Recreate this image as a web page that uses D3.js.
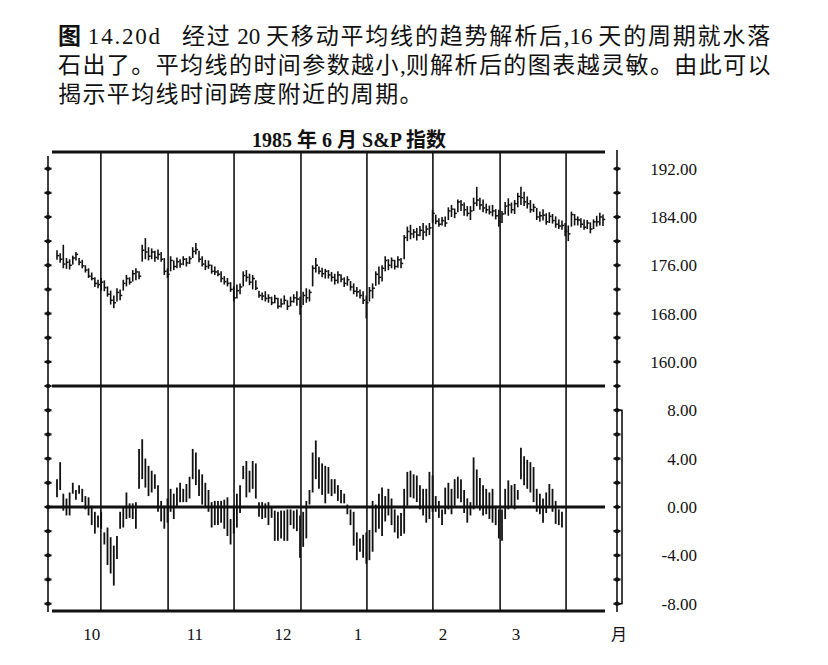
<!DOCTYPE html>
<html>
<head>
<meta charset="utf-8">
<script src="https://cdn.jsdelivr.net/npm/d3@7/dist/d3.min.js"></script>
<style>
  body { margin: 0; background: #fff; }
  svg { display: block; }
  text { font-family: "Liberation Serif", "Noto Sans CJK SC", serif; fill: #111; }
</style>
</head>
<body>
<div id="chart"></div>
<script>
// caption and chart title
const captionHead = ['图', '14.20d'];
const captionLines = [
    '经过 20 天移动平均线的趋势解析后,16 天的周期就水落',
    '石出了。平均线的时间参数越小,则解析后的图表越灵敏。由此可以',
    '揭示平均线时间跨度附近的周期。'
];
const chartTitle = '1985 年 6 月 S&P 指数';

// month labels and month boundaries (trading-day index)
const monthNames = ['10', '11', '12', '1', '2', '3'];
const monthLabelDay = [11, 43.7, 71.6, 95.4, 122.3, 145.4];
const monthBreakDay = [13.9, 35.2, 56.1, 77.3, 98.2, 119.1, 140.4, 161.3];

// S&P daily bars (top panel)
const spLow = [
    176.9,176.4,175.5,175.4,175.3,176.1,176.8,176.0,175.5,174.8,
    173.9,173.5,172.4,172.2,171.8,171.7,170.8,169.5,168.9,170.0,
    170.2,171.8,172.5,172.8,173.3,173.5,173.7,176.6,177.0,176.8,
    177.0,176.6,176.9,176.6,174.4,173.9,175.0,175.2,175.5,175.6,
    176.0,175.8,176.2,177.2,177.8,176.5,175.8,175.2,175.4,174.6,
    174.4,174.2,173.2,172.8,172.5,171.6,170.0,170.5,171.2,172.5,
    173.3,172.7,172.0,171.9,170.6,170.2,170.0,169.8,169.4,169.7,
    168.8,169.0,169.5,168.6,169.2,169.8,169.3,167.8,169.4,169.8,
    170.0,172.5,174.8,174.5,174.0,173.8,173.8,173.3,172.8,173.0,
    173.2,172.4,172.6,171.8,171.2,170.8,170.5,169.6,167.2,170.0,
    170.5,172.6,172.8,173.3,175.0,175.2,175.5,175.3,175.6,175.5,
    177.0,180.0,180.3,180.5,180.1,180.8,180.2,180.8,181.0,183.0,
    182.8,182.4,182.6,182.4,183.5,184.0,183.8,184.8,185.0,184.2,
    184.1,183.5,185.0,185.8,185.2,184.8,184.6,184.4,184.1,183.6,
    182.4,183.0,184.4,184.2,184.6,184.5,185.6,186.0,185.8,185.4,
    184.7,184.8,183.5,183.2,183.4,182.7,183.0,182.9,182.2,182.0,
    181.9,180.8,180.0,182.4,182.6,182.6,182.2,181.9,182.0,181.3,
    182.0,182.4,182.6,182.5
];
const spHigh = [
    178.5,178.0,179.4,177.2,177.0,177.6,178.2,177.2,176.9,176.0,
    175.5,174.8,174.0,173.6,173.9,173.5,172.5,171.8,171.0,172.2,
    172.0,173.6,174.4,174.0,175.2,175.5,175.0,179.4,180.5,179.0,
    178.8,178.4,178.6,178.2,177.2,175.5,177.5,176.8,177.3,177.0,
    177.5,177.2,177.5,179.0,179.7,178.4,177.5,176.9,176.8,176.1,
    175.8,175.2,175.0,174.2,173.9,173.2,172.5,172.8,173.0,175.0,
    175.2,174.6,174.4,173.5,171.8,171.5,171.7,171.2,170.8,171.1,
    170.6,170.5,171.0,170.2,170.8,171.2,171.7,170.8,171.6,172.2,
    172.0,176.0,177.2,175.8,175.6,175.4,175.2,174.9,174.6,175.0,
    174.5,174.0,174.2,173.4,173.0,172.4,172.0,171.7,171.0,172.4,
    173.0,175.0,175.8,176.0,177.5,177.0,177.3,176.9,177.5,177.2,
    181.0,182.4,182.7,182.0,182.2,182.5,183.0,182.6,183.0,185.2,
    184.4,183.8,184.0,184.1,185.6,186.0,185.4,186.9,186.8,186.4,
    185.8,185.8,187.2,189.0,187.2,186.9,186.2,185.9,186.0,185.3,
    185.2,185.0,186.5,187.1,186.4,186.8,188.0,189.0,188.2,187.4,
    186.8,186.2,185.5,184.9,185.3,184.6,184.8,184.5,184.1,183.6,
    183.4,183.0,182.6,184.9,184.5,184.1,183.8,183.6,183.5,183.1,
    183.6,184.2,184.7,184.4
];
const spClose = [
    177.6,177.0,176.2,176.5,176.0,177.2,177.8,176.5,175.9,175.2,
    174.2,173.8,173.0,172.8,173.2,172.3,171.2,170.2,169.8,171.5,
    171.0,173.0,173.8,173.2,174.6,174.9,174.2,178.5,178.2,177.5,
    178.2,177.3,177.8,177.0,175.0,174.5,176.8,175.8,176.6,176.2,
    177.0,176.4,177.1,178.3,178.6,177.0,176.2,175.8,176.0,175.0,
    174.9,174.5,173.8,173.3,173.0,172.0,170.6,171.8,172.4,174.3,
    174.0,173.2,173.8,172.2,171.0,170.9,170.5,170.6,169.8,170.5,
    169.2,169.6,170.2,169.2,170.0,170.6,170.4,169.2,171.0,170.6,
    171.5,175.5,176.0,175.0,174.6,175.0,174.4,174.0,173.5,174.4,
    173.7,173.0,173.6,172.4,171.7,171.6,171.0,170.2,169.8,171.8,
    172.2,174.5,174.0,175.5,176.8,176.0,176.8,175.8,176.9,176.3,
    180.6,181.6,181.2,181.5,181.0,181.8,181.5,182.0,182.2,184.6,
    183.3,182.8,183.4,183.0,185.0,185.3,184.6,186.5,186.0,185.2,
    184.6,185.0,186.3,186.8,186.0,185.5,185.2,184.8,185.0,184.2,
    183.2,184.5,185.8,186.0,185.2,186.2,187.4,187.2,186.5,186.2,
    185.2,185.6,184.0,184.2,184.3,183.2,184.1,183.4,182.8,182.5,
    182.6,181.6,181.2,184.4,183.6,183.5,182.8,182.3,183.0,182.0,
    183.2,183.2,184.0,183.6
];

// detrended bars: price minus 20-day moving average (bottom panel)
const oscLow = [
    0.8,1.4,-0.3,-0.7,-0.7,1.1,0.6,1.1,0.4,-0.2,
    -0.7,-1.5,-2.2,-1.7,-1.8,-3.1,-4.8,-5.5,-6.5,-4.3,
    -1.8,-1.7,-1.0,-0.9,-1.0,-1.8,1.5,2.3,1.6,0.9,
    1.2,1.5,-0.4,-1.2,-1.8,-1.3,-0.4,-1.0,0.0,0.4,
    0.4,0.4,0.7,2.3,1.8,0.9,0.2,0.0,-0.4,-1.7,
    -1.5,-1.5,-1.3,-1.8,-2.4,-3.1,-2.2,-1.7,-0.5,2.3,
    0.8,1.2,1.5,0.7,-0.8,-1.0,-0.9,-1.5,-0.9,-2.8,
    -2.8,-2.6,-2.8,-2.8,-1.5,-1.8,-2.0,-4.2,-3.3,-2.6,
    0.2,1.2,2.3,1.5,1.0,0.3,1.1,0.9,1.1,0.5,
    0.3,0.3,-0.6,-1.5,-3.2,-4.4,-3.7,-4.2,-4.7,-4.4,
    -3.7,-2.1,-1.8,-2.4,-1.2,-0.7,-1.5,-2.1,-2.6,-2.4,
    -2.2,0.1,0.8,0.7,0.4,-0.2,-0.7,-1.3,-1.0,-0.4,
    -0.4,-0.9,-1.5,-0.6,-0.2,-0.6,0.1,0.7,0.4,-0.5,
    -1.3,-0.7,-0.2,0.1,-0.3,-0.7,-0.6,-1.0,-1.3,-1.5,
    -2.6,-2.8,-1.0,-0.2,0.0,-0.2,0.6,2.3,1.8,1.5,
    1.2,0.4,-0.4,-0.6,-1.3,-0.5,0.1,-0.4,-1.4,-1.5,-1.7
];
const oscHigh = [
    2.3,3.7,1.1,0.7,1.2,2.0,1.4,1.8,1.5,0.9,
    0.8,0.1,-0.4,-0.7,-0.4,-2.1,-1.7,-2.5,-3.2,-2.4,
    -0.4,0.0,1.2,0.3,0.3,0.4,4.8,5.6,4.0,3.4,
    3.0,2.7,1.8,0.5,0.1,0.7,1.5,1.1,1.6,2.0,
    1.5,1.9,2.5,4.8,4.5,3.1,2.7,2.0,1.4,0.4,
    0.5,0.5,0.5,0.6,0.8,-1.0,0.1,1.1,1.8,3.4,
    3.8,3.0,3.8,3.6,0.4,0.4,0.3,0.4,0.0,-0.3,
    -0.4,-0.3,-0.3,-0.2,-0.2,-0.3,-0.2,-0.7,-0.4,0.5,
    1.4,4.5,5.5,4.1,3.6,3.4,3.3,2.3,2.3,1.8,
    1.4,1.1,0.2,-0.2,-0.4,-2.1,-2.6,-2.3,-2.1,-1.9,
    0.5,0.2,1.1,1.6,0.9,1.5,0.7,-0.2,-0.7,-0.5,
    1.5,2.9,3.0,2.7,2.6,1.8,1.5,1.5,2.9,2.6,
    0.9,0.5,-0.2,1.6,2.0,1.5,2.3,2.5,2.3,1.4,
    0.7,0.4,4.1,3.1,2.4,1.8,1.5,1.2,1.5,0.1,
    -0.2,-0.2,1.5,2.2,1.8,1.9,1.4,4.9,4.2,3.9,
    3.7,3.3,1.5,1.1,0.7,1.2,1.9,1.5,0.5,-0.2,-0.4
];

// axis ticks
const priceLabels = [160, 168, 176, 184, 192];
const priceMinor = [156, 160, 164, 168, 172, 176, 180, 184, 188, 192];
const oscLabels = [-8, -4, 0, 4, 8];
const oscMinor = [-8, -6, -4, -2, 0, 2, 4, 6, 8];

const width = 828, height = 665;
const plotLeft = 52, plotRight = 605;
const axisL = 48, axisR = 617;
const capX = 58;

const svg = d3.select('#chart').append('svg')
    .attr('width', width)
    .attr('height', height);

// caption: CJK runs get extra spacing so each line fills its width
function captionLine(y, parts, target) {
    const t = svg.append('text').attr('x', capX).attr('y', y).attr('font-size', 23);
    const cjk = [];
    let shift = 0;
    parts.forEach(p => {
        const runs = p.text.match(/[\x00-\x7f]+|[^\x00-\x7f]+/g);
        runs.forEach((r, i) => {
            const s = t.append('tspan').text(r);
            if (i === 0 && p.dx) { s.attr('dx', p.dx); shift += p.dx; }
            if (p.bold) s.attr('font-weight', 'bold');
            if (/^[\x00-\x7f]+$/.test(r)) s.attr('letter-spacing', p.ls || 0);
            else cjk.push([s, r.length]);
        });
    });
    const natural = t.node().getComputedTextLength();
    const n = d3.sum(cjk, d => d[1]);
    const ls = Math.max(0, (target - shift - natural) / n);
    cjk.forEach(([s]) => s.attr('letter-spacing', ls));
}
captionLine(44, [
    { text: captionHead[0], bold: true },
    { text: captionHead[1], dx: 5, ls: 1.8 },
    { text: captionLines[0], dx: 20 }
], 714);
captionLine(73, [{ text: captionLines[1] }], 714);
captionLine(102, [{ text: captionLines[2] }], 366);

svg.append('text')
    .attr('x', 349).attr('y', 147)
    .attr('text-anchor', 'middle')
    .attr('font-size', 20)
    .attr('font-weight', 'bold')
    .text(chartTitle);

// scales
const x = d3.scaleLinear().domain([0, 173]).range([57, 603]);
const yTop = d3.scaleLinear().domain([156, 194.6]).range([386, 153]);
const yBot = d3.scaleLinear().domain([-8.6, 10]).range([611, 386]);

// month separators
svg.append('g').selectAll('line')
    .data(monthBreakDay)
    .join('line')
    .attr('x1', d => x(d)).attr('x2', d => x(d))
    .attr('y1', 152).attr('y2', 611)
    .attr('stroke', '#111').attr('stroke-width', 1.6);

// panel frame lines
const frame = svg.append('g').attr('stroke', '#111');
[152, yTop(156), yBot(-8.6)].forEach(yy => {
    frame.append('line')
        .attr('x1', plotLeft).attr('x2', plotRight)
        .attr('y1', yy).attr('y2', yy)
        .attr('stroke-width', 3);
});
frame.append('line')
    .attr('x1', axisL).attr('x2', plotRight)
    .attr('y1', yBot(0)).attr('y2', yBot(0))
    .attr('stroke-width', 3);

// price bars
const days = d3.range(spLow.length);
const priceG = svg.append('g').attr('stroke', '#111');
priceG.selectAll('line.bar')
    .data(days)
    .join('line')
    .attr('class', 'bar')
    .attr('x1', d => x(d)).attr('x2', d => x(d))
    .attr('y1', d => yTop(spLow[d])).attr('y2', d => yTop(spHigh[d]))
    .attr('stroke-width', 1.6);
priceG.selectAll('line.close')
    .data(days)
    .join('line')
    .attr('class', 'close')
    .attr('x1', d => x(d)).attr('x2', d => x(d) + 2.2)
    .attr('y1', d => yTop(spClose[d])).attr('y2', d => yTop(spClose[d]))
    .attr('stroke-width', 1.5);

// detrended bars
const oscDays = d3.range(oscLow.length);
svg.append('g').attr('stroke', '#111')
    .selectAll('line')
    .data(oscDays)
    .join('line')
    .attr('x1', d => x(d)).attr('x2', d => x(d))
    .attr('y1', d => yBot(oscLow[d])).attr('y2', d => yBot(oscHigh[d]))
    .attr('stroke-width', 1.8);

// left and right axes with cross ticks and dots
function crossAxis(xPos, scale, values, y0, y1) {
    const g = svg.append('g');
    g.append('line')
        .attr('x1', xPos).attr('x2', xPos)
        .attr('y1', y0).attr('y2', y1)
        .attr('stroke', '#111').attr('stroke-width', 1.6);
    g.selectAll('line.tk')
        .data(values)
        .join('line')
        .attr('class', 'tk')
        .attr('x1', xPos - 3.5).attr('x2', xPos + 3.5)
        .attr('y1', d => scale(d)).attr('y2', d => scale(d))
        .attr('stroke', '#111').attr('stroke-width', 2.2);
    g.selectAll('circle')
        .data(values)
        .join('circle')
        .attr('cx', xPos).attr('cy', d => scale(d))
        .attr('r', 2.2).attr('fill', '#111');
}
crossAxis(axisL, yTop, priceMinor, 156, 386);
crossAxis(axisL, yBot, oscMinor, 386, 612);
crossAxis(axisR, yTop, priceMinor, 150, 386);
crossAxis(axisR, yBot, oscMinor, 386, 612);

// bracket beside the lower scale
svg.append('path')
    .attr('d', `M${axisR},${yBot(8)}H${axisR + 5}V${yBot(-8)}H${axisR}`)
    .attr('fill', 'none').attr('stroke', '#111').attr('stroke-width', 1.6);

// right labels via d3 axes (plain hyphen for negatives)
const fmt = d => d3.format('.2f')(d).replace('\u2212', '-');
function labelAxis(scale, values) {
    const g = svg.append('g')
        .attr('transform', `translate(${axisR},0)`)
        .call(d3.axisRight(scale).tickValues(values).tickFormat(fmt).tickSize(0));
    g.select('.domain').remove();
    g.selectAll('text')
        .attr('x', 80)
        .attr('text-anchor', 'end')
        .attr('font-size', 17)
        .attr('font-family', '"Liberation Serif", serif')
        .attr('fill', '#111');
}
labelAxis(yTop, priceLabels);
labelAxis(yBot, oscLabels);

// month labels
svg.append('g').selectAll('text')
    .data(monthNames)
    .join('text')
    .attr('x', (d, i) => x(monthLabelDay[i]))
    .attr('y', 640)
    .attr('text-anchor', 'middle')
    .attr('font-size', 17)
    .text(d => d);
svg.append('text')
    .attr('x', 619).attr('y', 640)
    .attr('text-anchor', 'middle')
    .attr('font-size', 16)
    .text('月');
</script>
</body>
</html>
